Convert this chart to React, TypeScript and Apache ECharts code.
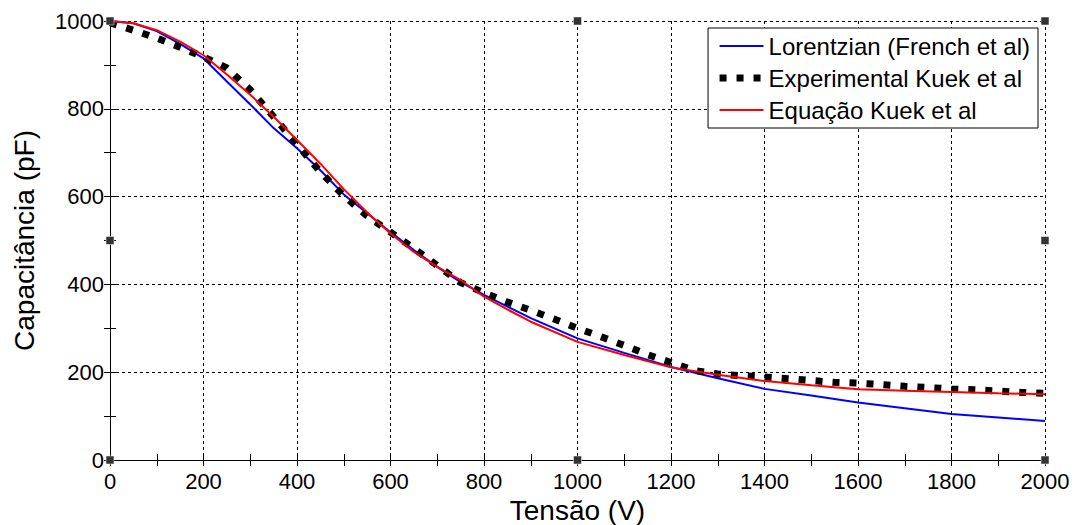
import React, { useEffect, useRef } from "react";
import * as echarts from "echarts";

const seriesNames = ["Lorentzian (French et al)", "Experimental Kuek et al", "Equação Kuek et al"];

const lorentzV = [0, 50, 100, 150, 200, 250, 300, 350, 400, 450, 500, 550, 600, 650, 700, 750, 800, 900, 1000, 1100, 1200, 1300, 1400, 1500, 1600, 1700, 1800, 1900, 2000];
const lorentzC = [1000, 995, 977, 948, 915, 862, 810, 756, 710, 660, 605, 562, 519, 478, 440, 405, 376, 323, 277, 244, 212, 186, 162, 147, 131, 118, 105, 97, 89];

const expV = [0, 50, 100, 150, 200, 250, 300, 350, 400, 450, 500, 550, 600, 650, 700, 750, 800, 850, 900, 950, 1000, 1050, 1100, 1150, 1200, 1250, 1300, 1350, 1400, 1450, 1500, 1550, 1600, 1650, 1700, 1750, 1800, 1850, 1900, 1950, 2000];
const expC = [996, 979, 961, 940, 918, 893, 843, 782, 719, 656, 602, 556, 519, 482, 443, 404, 381, 360, 341, 321, 300, 281, 261, 240, 222, 204, 196, 192, 189, 185, 181, 177, 175, 172, 168, 165, 162, 160, 157, 154, 152];

const eqV = [0, 50, 100, 150, 200, 250, 300, 350, 400, 450, 500, 550, 600, 650, 700, 750, 800, 850, 900, 1000, 1100, 1200, 1300, 1400, 1500, 1600, 1700, 1800, 1900, 2000];
const eqC = [1000, 995, 979, 953, 922, 878, 832, 782, 729, 675, 617, 564, 516, 474, 440, 410, 372, 343, 315, 269, 239, 211, 194, 180, 170, 161, 158, 155, 152, 150];

const xMin = 0, xMax = 2000, xStep = 200;
const yMin = 0, yMax = 1000, yStep = 200;

const FONT = "Arial, 'Liberation Sans', sans-serif";

function zip(a: number[], b: number[]) {
  return a.map((v, i) => [v, b[i]]);
}

export default function App() {
  const ref = useRef<HTMLDivElement>(null);
  useEffect(() => {
    if (!ref.current) return;
    const chart = echarts.init(ref.current, undefined, { renderer: "svg" });
    const baseAxis = {
      axisLine: { show: true, lineStyle: { color: "#000", width: 1 } },
      axisTick: { show: true, inside: true, length: 6, lineStyle: { color: "#000" } },
      minorTick: { show: true, splitNumber: 2, length: 6, lineStyle: { color: "#000" } },
    };
    const plain = (v: number) => String(v);
    chart.setOption({
      animation: false,
      backgroundColor: "#fff",
      grid: { left: 110, right: 30, top: 21, bottom: 65, show: false, containLabel: false, outerBoundsMode: "none" },
      legend: {
        orient: "vertical",
        right: 37,
        top: 28,
        data: seriesNames,
        backgroundColor: "#fff",
        borderColor: "#000",
        borderWidth: 1,
        borderRadius: 0,
        padding: [6, 8, 6, 8],
        itemGap: 8,
        itemWidth: 44,
        itemHeight: 24,
        itemStyle: { opacity: 0, borderWidth: 0 },
        lineStyle: { width: "inherit", type: "inherit" },
        textStyle: { fontSize: 24, fontFamily: FONT, color: "#000" },
      },
      xAxis: [
        {
          ...baseAxis,
          type: "value",
          min: xMin,
          max: xMax,
          interval: xStep,
          name: "Tensão (V)",
          nameLocation: "middle",
          nameGap: 30,
          nameTextStyle: { fontSize: 28, fontFamily: FONT, color: "#000" },
          axisLabel: { fontSize: 22, fontFamily: FONT, color: "#000", margin: 10, formatter: plain },
          splitLine: { show: true, lineStyle: { color: "#000", type: [3, 3], width: 1 } },
        },
        {
          ...baseAxis,
          type: "value",
          position: "top",
          min: xMin,
          max: xMax,
          interval: xStep,
          axisLabel: { show: false },
          splitLine: { show: false },
        },
      ],
      yAxis: [
        {
          ...baseAxis,
          type: "value",
          min: yMin,
          max: yMax,
          interval: yStep,
          name: "Capacitância (pF)",
          nameLocation: "middle",
          nameGap: 72,
          nameTextStyle: { fontSize: 28, fontFamily: FONT, color: "#000" },
          axisLabel: { fontSize: 22, fontFamily: FONT, color: "#000", margin: 6, formatter: plain },
          splitLine: { show: true, lineStyle: { color: "#000", type: [3, 3], width: 1 } },
        },
        {
          ...baseAxis,
          type: "value",
          position: "right",
          min: yMin,
          max: yMax,
          interval: yStep,
          axisLabel: { show: false },
          splitLine: { show: false },
        },
      ],
      series: [
        {
          name: seriesNames[0],
          type: "line",
          data: zip(lorentzV, lorentzC),
          showSymbol: false,
          symbol: "none",
          lineStyle: { color: "#0000ff", width: 2 },
          itemStyle: { color: "#0000ff" },
        },
        {
          name: seriesNames[1],
          type: "line",
          data: zip(expV, expC),
          showSymbol: false,
          symbol: "none",
          lineStyle: { color: "#000", width: 7, type: [7, 10], cap: "butt" },
          itemStyle: { color: "#000" },
        },
        {
          name: seriesNames[2],
          type: "line",
          data: zip(eqV, eqC),
          showSymbol: false,
          symbol: "none",
          lineStyle: { color: "#ff0000", width: 2 },
          itemStyle: { color: "#ff0000" },
        },
      ],
    });
    const handlePts = [
      [xMin, yMax], [(xMin + xMax) / 2, yMax], [xMax, yMax],
      [xMin, (yMin + yMax) / 2], [xMax, (yMin + yMax) / 2],
      [xMin, yMin], [(xMin + xMax) / 2, yMin], [xMax, yMin],
    ];
    const graphics = handlePts.map((p) => {
      const px = chart.convertToPixel({ gridIndex: 0 }, p) as number[];
      return {
        type: "rect",
        shape: { x: px[0] - 4, y: px[1] - 4, width: 8, height: 8 },
        style: { fill: "#333", stroke: "#fff", lineWidth: 0.5 },
        z: 100,
      };
    });
    chart.setOption({ graphic: graphics });
    return () => chart.dispose();
  }, []);
  return (
    <div
      ref={ref}
      style={{ position: "fixed", left: 0, top: 0, width: 1075, height: 525 }}
    />
  );
}
